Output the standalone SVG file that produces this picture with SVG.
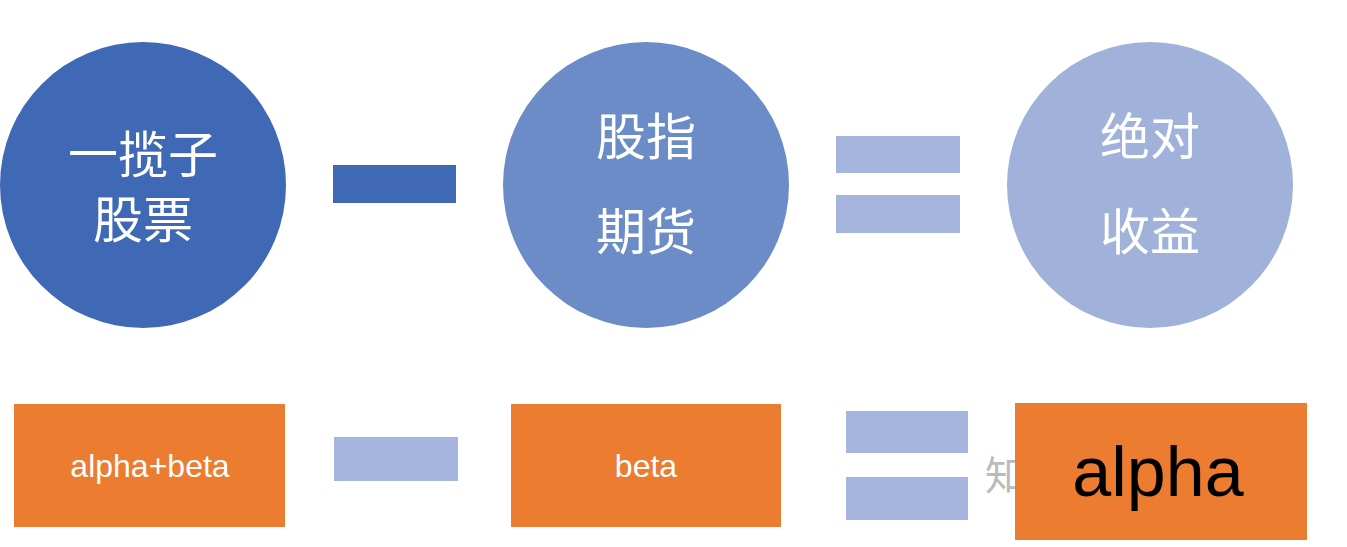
<svg xmlns="http://www.w3.org/2000/svg" width="1347" height="547" viewBox="0 0 1347 547">
<style>
.t{font-family:"Noto Sans CJK SC","Liberation Sans",sans-serif;fill:#fff;text-anchor:middle}
.c{font-size:50px}
.b{font-size:32px;font-family:"Liberation Sans",sans-serif}
.o{fill:#EC7C30}
.p{fill:#A6B5DD}
</style>
<rect width="1347" height="547" fill="#fff"/>
<g id="n1"><circle cx="143" cy="185" r="143" fill="#3F68B5"/><text class="t c" x="143" y="173">一揽子</text><text class="t c" x="143" y="238">股票</text></g>
<g id="n2"><circle cx="646" cy="185" r="143" fill="#6B8CC7"/><text class="t c" x="646" y="155">股指</text><text class="t c" x="646" y="250">期货</text></g>
<g id="n3"><circle cx="1150" cy="185" r="143" fill="#A0B1DA"/><text class="t c" x="1150" y="155">绝对</text><text class="t c" x="1150" y="250">收益</text></g>
<g id="ops">
<rect x="333" y="165" width="123" height="38" fill="#3F68B5"/>
<rect x="836" y="136" width="124" height="37" class="p"/>
<rect x="836" y="195" width="124" height="38" class="p"/>
<rect x="334" y="437" width="124" height="44" class="p"/>
<rect x="846" y="411" width="122" height="42" class="p"/>
<rect x="846" y="477" width="122" height="43" class="p"/>
</g>
<text x="985" y="490" font-family="Noto Sans CJK SC,sans-serif" font-size="40" fill="#bbb">知</text>
<g id="b1"><rect x="14" y="404" width="271" height="123" class="o"/><text class="t b" x="150" y="477">alpha+beta</text></g>
<g id="b2"><rect x="511" y="404" width="270" height="123" class="o"/><text class="t b" x="646" y="477">beta</text></g>
<g id="b3"><rect x="1015" y="403" width="292" height="137" class="o"/><text x="1158" y="496" text-anchor="middle" font-family="Liberation Sans,sans-serif" font-size="70" fill="#000">alpha</text></g>
</svg>
